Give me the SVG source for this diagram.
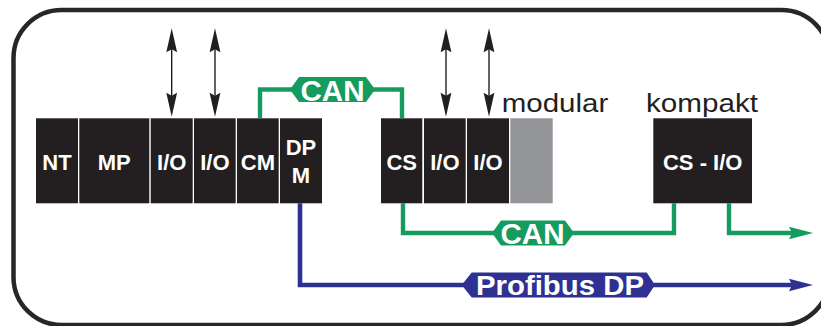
<svg xmlns="http://www.w3.org/2000/svg" width="821" height="326" viewBox="0 0 821 326">
<style>
.frame{fill:none;stroke:#24282a;stroke-width:4.5}
.mod{fill:#231f20}
.gray{fill:#939598}
.lbl{font-family:"Liberation Sans",Arial,sans-serif;font-weight:bold;font-size:22px;fill:#ffffff;text-anchor:middle}
.side{font-family:"Liberation Sans",Arial,sans-serif;font-size:26px;fill:#231f20}
.can{fill:none;stroke:#169b5e;stroke-width:4.4}
.pb{fill:none;stroke:#2e3192;stroke-width:4.6}
.io{stroke:#111;stroke-width:1.3}
.ah{fill:#231f20}
.badge{font-family:"Liberation Sans",Arial,sans-serif;font-weight:bold;fill:#ffffff;text-anchor:middle}
</style>
<defs>
<path id="headUp" d="M0,0 L5.4,24 L0,21 L-5.4,24 Z"/>
<path id="headDown" d="M0,0 L5.4,-24 L0,-21 L-5.4,-24 Z"/>
</defs>
<rect class="frame" x="13.5" y="10" width="816" height="315" rx="48" ry="48"/>

<g id="NT"><rect class="mod" x="36" y="118.3" width="42" height="85"/><text class="lbl" x="57" y="170">NT</text></g>
<g id="MP"><rect class="mod" x="79.3" y="118.3" width="70" height="85"/><text class="lbl" x="114.3" y="170">MP</text></g>
<g id="IO1"><rect class="mod" x="150.7" y="118.3" width="42" height="85"/><text class="lbl" x="171.7" y="170">I/O</text></g>
<g id="IO2"><rect class="mod" x="194" y="118.3" width="41.7" height="85"/><text class="lbl" x="214.9" y="170">I/O</text></g>
<g id="CM"><rect class="mod" x="237" y="118.3" width="41.7" height="85"/><text class="lbl" x="257.9" y="170">CM</text></g>
<g id="DPM"><rect class="mod" x="280" y="118.3" width="42" height="85"/><text class="lbl" x="301" y="155">DP</text><text class="lbl" x="301" y="183">M</text></g>
<g id="CS"><rect class="mod" x="381" y="118.3" width="41.3" height="85"/><text class="lbl" x="401.7" y="170">CS</text></g>
<g id="IO3"><rect class="mod" x="424" y="118.3" width="41.7" height="85"/><text class="lbl" x="444.9" y="170">I/O</text></g>
<g id="IO4"><rect class="mod" x="467" y="118.3" width="42" height="85"/><text class="lbl" x="488" y="170">I/O</text></g>
<g id="EMPTY"><rect class="gray" x="510.3" y="118.3" width="42.4" height="85"/></g>
<g id="CSIO"><rect class="mod" x="653.3" y="118.3" width="98.7" height="85"/><text class="lbl" x="702.7" y="170">CS - I/O</text></g>
<g id="modular"><text class="side" x="501.7" y="112.3" textLength="106.6" lengthAdjust="spacingAndGlyphs">modular</text></g>
<g id="kompakt"><text class="side" x="646" y="112.3" textLength="112" lengthAdjust="spacingAndGlyphs">kompakt</text></g>

<g id="connectors">
  <g id="io-arrows">
    <line class="io" x1="171.7" y1="45" x2="171.7" y2="100"/>
    <use href="#headUp" class="ah" x="171.7" y="28.3"/>
    <use href="#headDown" class="ah" x="171.7" y="116.7"/>
    <line class="io" x1="215" y1="45" x2="215" y2="100"/>
    <use href="#headUp" class="ah" x="215" y="28.3"/>
    <use href="#headDown" class="ah" x="215" y="116.7"/>
    <line class="io" x1="446" y1="45" x2="446" y2="100"/>
    <use href="#headUp" class="ah" x="446" y="28.3"/>
    <use href="#headDown" class="ah" x="446" y="116.7"/>
    <line class="io" x1="489" y1="45" x2="489" y2="100"/>
    <use href="#headUp" class="ah" x="489" y="28.3"/>
    <use href="#headDown" class="ah" x="489" y="116.7"/>
  </g>
  <g id="can-top">
    <path class="can" d="M260,118.3 V89.5 H402 V118.3"/>
    <path d="M290,89.5 L299,77 L366,77 L375,89.5 L366,102 L299,102 Z" fill="#169b5e"/>
    <text class="badge" x="332.5" y="100.5" font-size="29" textLength="64" lengthAdjust="spacingAndGlyphs">CAN</text>
  </g>
  <g id="can-bottom">
    <path class="can" d="M403,203.3 V233 H674 V203.3"/>
    <path d="M492,233 L501,220.5 L565,220.5 L574,233 L565,245.5 L501,245.5 Z" fill="#169b5e"/>
    <text class="badge" x="532.5" y="243.5" font-size="29" textLength="64" lengthAdjust="spacingAndGlyphs">CAN</text>
    <path class="can" d="M729,203.3 V233 H792"/>
    <path d="M789,226.7 L813,233 L789,239.3 L792,233 Z" fill="#169b5e"/>
  </g>
  <g id="profibus">
    <path class="pb" d="M300,203.3 V285 H792"/>
    <path d="M789,278.7 L813,285 L789,291.3 L792,285 Z" fill="#2e3192"/>
    <path d="M461.7,285 L471.7,272.5 L646.7,272.5 L655,285 L646.7,297.5 L471.7,297.5 Z" fill="#2e3192"/>
    <text class="badge" x="560" y="294.5" font-size="28" textLength="168" lengthAdjust="spacingAndGlyphs">Profibus DP</text>
  </g>
</g>
</svg>
